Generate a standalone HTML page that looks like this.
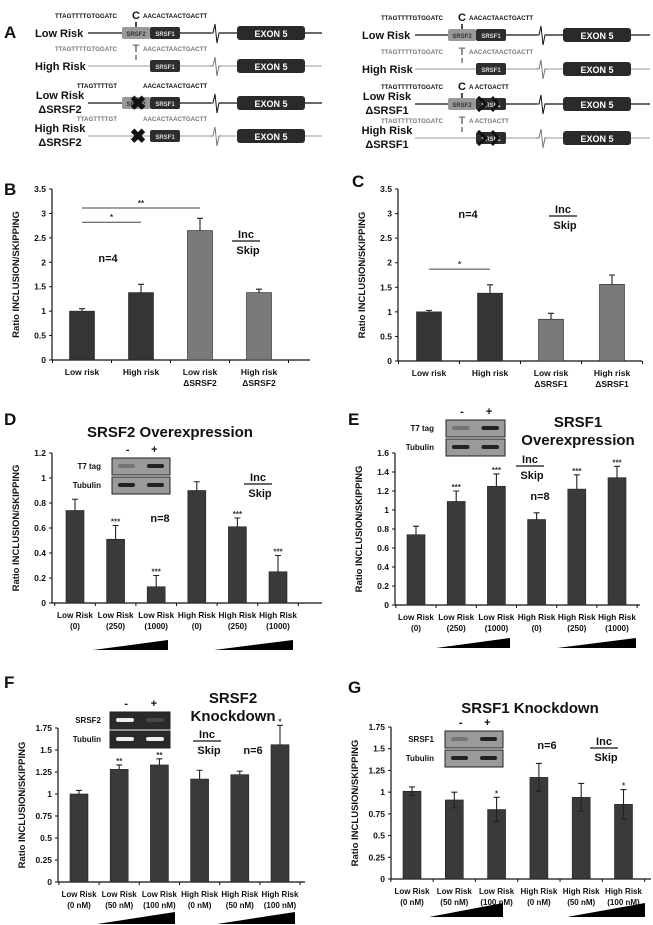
<!DOCTYPE html>
<html><head><meta charset="utf-8"><style>
html,body{margin:0;padding:0;background:#fff}
svg{display:block;font-family:"Liberation Sans",Arial,sans-serif;font-weight:bold}
</style></head><body>
<svg id="fig" width="653" height="925" viewBox="0 0 653 925" xmlns="http://www.w3.org/2000/svg">
<g id="panelA"></g>
</svg>
<script>
// ---- data ----
const catsB = [["Low risk",""],["High risk",""],["Low risk","ΔSRSF2"],["High risk","ΔSRSF2"]];
const valsB = [1.0, 1.38, 2.65, 1.38];
const errsB = [0.05, 0.17, 0.25, 0.07];
const ticksB = [0,0.5,1,1.5,2,2.5,3,3.5];
const catsC = [["Low risk",""],["High risk",""],["Low risk","ΔSRSF1"],["High risk","ΔSRSF1"]];
const valsC = [1.0, 1.38, 0.85, 1.56];
const errsC = [0.03, 0.17, 0.12, 0.19];
const ticksC = [0,0.5,1,1.5,2,2.5,3,3.5];
const catsOE = [["Low Risk","(0)"],["Low Risk","(250)"],["Low Risk","(1000)"],["High Risk","(0)"],["High Risk","(250)"],["High Risk","(1000)"]];
const valsD = [0.74, 0.51, 0.13, 0.90, 0.61, 0.25];
const errsD = [0.09, 0.11, 0.09, 0.07, 0.07, 0.13];
const starsD = ["","***","***","","***","***"];
const ticksD = [0,0.2,0.4,0.6,0.8,1,1.2];
const valsE = [0.74, 1.09, 1.25, 0.90, 1.22, 1.34];
const errsE = [0.09, 0.11, 0.13, 0.07, 0.15, 0.12];
const starsE = ["","***","***","","***","***"];
const ticksE = [0,0.2,0.4,0.6,0.8,1,1.2,1.4,1.6];
const catsKD = [["Low Risk","(0 nM)"],["Low Risk","(50 nM)"],["Low Risk","(100 nM)"],["High Risk","(0 nM)"],["High Risk","(50 nM)"],["High Risk","(100 nM)"]];
const valsF = [1.0, 1.28, 1.33, 1.17, 1.22, 1.56];
const errsF = [0.04, 0.05, 0.07, 0.10, 0.04, 0.22];
const starsF = ["","**","**","","","*"];
const ticksF = [0,0.25,0.5,0.75,1,1.25,1.5,1.75];
const valsG = [1.01, 0.91, 0.80, 1.17, 0.94, 0.86];
const errsG = [0.05, 0.09, 0.14, 0.16, 0.16, 0.17];
const starsG = ["","","*","","","*"];
const ticksG = [0,0.25,0.5,0.75,1,1.25,1.5,1.75];

const NS="http://www.w3.org/2000/svg";
const svg=document.getElementById('fig');
function mk(tag,attrs,parent,text){const e=document.createElementNS(NS,tag);for(const k in attrs)e.setAttribute(k,attrs[k]);if(text!==undefined)e.textContent=text;(parent||svg).appendChild(e);return e;}
function fmt(v){return String(v);}

function chart(o){
  const g=mk('g',{});
  
  
  const ymax=o.ticks[o.ticks.length-1];
  const y=v=>o.y0-(v/ymax)*(o.y0-o.yTop);
  const x=i=>o.x0+o.pad+i*o.step;
  const ya=mk('line',{x1:o.x0,y1:o.yTop,x2:o.x0,y2:o.y0,stroke:'#111','stroke-width':1.2},g);
  
  
  const xa=mk('line',{x1:o.x0,y1:o.y0,x2:o.xEnd,y2:o.y0,stroke:'#111','stroke-width':1.2},g);
  
  
  o.ticks.forEach(t=>{
    mk('line',{x1:o.x0-3,y1:y(t),x2:o.x0,y2:y(t),stroke:'#111'},g);
    const tl=mk('text',{x:o.x0-6,y:y(t)+3,'font-size':8.5,'text-anchor':'end',fill:'#111'},g,fmt(t));
    
    
  });
  for(let i=0;i<=o.vals.length;i++){const tx=x(i)-o.step/2;mk('line',{x1:tx,y1:o.y0,x2:tx,y2:o.y0+3,stroke:'#111'},g);}
  const yt=mk('text',{x:0,y:0,'font-size':9.5,'text-anchor':'middle',fill:'#111',transform:`translate(${o.x0-33},${(o.y0+o.yTop)/2}) rotate(-90)`},g,'Ratio INCLUSION/SKIPPING');
  
  
  o.vals.forEach((v,i)=>{
    const cx=x(i);
    const col=o.colors?o.colors[i]:'#3a3a3a';
    const b=mk('rect',{x:cx-o.bw/2,y:y(v),width:o.bw,height:o.y0-y(v),fill:col,stroke:'#222','stroke-width':0.6},g);
    
    
    const e=o.errs[i];
    const eb=mk('path',{d:`M${cx},${y(v)} V${y(v+e)} M${cx-3},${y(v+e)} H${cx+3}`+(o.twoSided?` M${cx},${y(v)} V${y(v-e)} M${cx-3},${y(v-e)} H${cx+3}`:''),stroke:'#222','stroke-width':1.1,fill:'none'},g);
    
    
    if(o.stars&&o.stars[i]){
      const s=mk('text',{x:cx,y:y(v+e)-1,'font-size':8,'text-anchor':'middle',fill:'#333'},g,o.stars[i]);
      
      
    }
    const c=o.cats[i];
    const l1=mk('text',{x:cx,y:o.y0+15,'font-size':o.lfs||8.5,'text-anchor':'middle',fill:'#111'},g,c[0]);
    
    
    if(c[1]){const l2=mk('text',{x:cx,y:o.y0+26,'font-size':o.lfs||8.5,'text-anchor':'middle',fill:'#111'},g,c[1]);
      
      }
  });
  if(o.sig){o.sig.forEach(s=>{
    mk('line',{x1:x(s[0]),x2:x(s[1]),y1:y(s[2]),y2:y(s[2]),stroke:'#444','stroke-width':1},g);
    const st=mk('text',{x:(x(s[0])+x(s[1]))/2,y:y(s[2])-2,'font-size':8,'text-anchor':'middle',fill:'#333'},g,s[3]);
    
    
  });}
  if(o.tri){o.tri.forEach(t=>{
    const p=mk('polygon',{points:`${t[0]},${t[2]} ${t[1]},${t[2]} ${t[1]},${t[2]-t[3]}`,fill:'#000'},g);
    
    
  });}
  return g;
}
function txt(x,y,s,fs,name,anchor,fill){const t=mk('text',{x:x,y:y,'font-size':fs,'text-anchor':anchor||'middle',fill:fill||'#111'},svg,s);
  
  return t;}
function incskip(x,y){txt(x,y,'Inc',11,'inc-label');mk('line',{x1:x-14,x2:x+14,y1:y+3,y2:y+3,stroke:'#111','stroke-width':1.2});txt(x+2,y+16,'Skip',11,'skip-label');}
function blot(x,y,w,labels,bright,lx){
  labels.forEach((l,k)=>{
    const yy=y+k*19;
    const r=mk('rect',{x:x,y:yy,width:w,height:17,fill:bright?'#2a2a2a':'#9a9a9a',stroke:'#222'});
    
    
    txt(lx,yy+11,l,8,'blot-label','end');
    const b=bright?(k==0?[1,0.15]:[1,1]):l==='Tubulin'?[1,1]:[0.3,1];
    b.forEach((a,j)=>{mk('rect',{x:x+6+j*(w/2),y:yy+6,width:w/2-12,height:4,rx:2,fill:bright?'#eee':'#222',opacity:a});});
  });
  txt(x+w*0.27,y-5,'-',11,'minus-label');txt(x+w*0.73,y-5,'+',11,'plus-label');
}

[['A',4,38],['B',4,195],['C',352,187],['D',4,425],['E',348,425],['F',4,688],['G',348,693]].forEach(p=>txt(p[1],p[2],p[0],17,'panel-letter-'+p[0].toLowerCase(),'start'));

chart({name:'chart-b',cats:catsB,vals:valsB,errs:errsB,ticks:ticksB,x0:52,y0:360,yTop:189,xEnd:310,pad:30,step:59,bw:25,
  colors:['#353535','#353535','#7a7a7a','#7a7a7a'],sig:[[0,1,2.82,'*'],[0,2,3.11,'**']]});
txt(108,262,'n=4',11,'n-label');incskip(246,238);
chart({name:'chart-c',cats:catsC,vals:valsC,errs:errsC,ticks:ticksC,x0:398,y0:361,yTop:189,xEnd:642,pad:31,step:61,bw:25,
  colors:['#353535','#353535','#7a7a7a','#7a7a7a'],sig:[[0,1,1.87,'*']]});
txt(468,218,'n=4',11,'n-label');incskip(563,213);
chart({name:'chart-d',cats:catsOE,vals:valsD,errs:errsD,stars:starsD,ticks:ticksD,x0:52,y0:603,yTop:453,xEnd:322,pad:23,step:40.6,bw:18,lfs:8.2,
  tri:[[93,168,650,10],[214,293,650,10]]});
txt(170,437,'SRSF2 Overexpression',15,'chart-title-d');
blot(112,458,58,['T7 tag','Tubulin'],false,101);
txt(160,522,'n=8',11,'n-label');incskip(258,481);
chart({name:'chart-e',cats:catsOE,vals:valsE,errs:errsE,stars:starsE,ticks:ticksE,x0:395,y0:605,yTop:453,xEnd:640,pad:21,step:40.2,bw:18,lfs:8.2,
  tri:[[436,510,648,10],[557,636,648,10]]});
txt(578,427,'SRSF1',15,'chart-title-e');txt(578,445,'Overexpression',15,'chart-title-e-line2');
blot(446,420,59,['T7 tag','Tubulin'],false,434);
txt(540,500,'n=8',11,'n-label');incskip(530,463);
chart({name:'chart-f',cats:catsKD,vals:valsF,errs:errsF,stars:starsF,ticks:ticksF,x0:58,y0:882,yTop:728,xEnd:305,pad:21,step:40.2,bw:18,lfs:8,
  tri:[[97,175,924,12],[217,295,924,12]]});
txt(233,703,'SRSF2',15,'chart-title-f');txt(233,721,'Knockdown',15,'chart-title-f-line2');
blot(110,712,60,['SRSF2','Tubulin'],true,101);
txt(253,754,'n=6',11,'n-label');incskip(207,738);
chart({name:'chart-g',cats:catsKD,vals:valsG,errs:errsG,stars:starsG,ticks:ticksG,x0:391,y0:879,yTop:727,xEnd:651,pad:21,step:42.3,bw:18,lfs:8,twoSided:true,
  tri:[[429,503,917,14],[567,645,917,14]]});
txt(530,713,'SRSF1 Knockdown',15,'chart-title-g');
blot(445,731,58,['SRSF1','Tubulin'],false,434);
txt(547,749,'n=6',11,'n-label');incskip(604,745);

// Panel A diagrams
function row(ox,y,label,label2,seq,s2,kind,base,lineEnd,dark){
  const col=dark?'#111':'#777';
  if(label2){txt(ox+25,y-4,label,11,'row-label','middle');txt(ox+25,y+10,label2,11,'row-label-line2','middle');}
  else txt(ox,y+4,label,11,'row-label','start');
  mk('line',{x1:ox+53,y1:y,x2:lineEnd,y2:y,stroke:col,'stroke-width':dark?1.2:0.8});
  const sq=ox+base+93;
  mk('rect',{x:sq-4,y:y-10,width:8,height:22,fill:'#fff'});
  mk('path',{d:`M${sq-5},${y} L${sq-2},${y} L${sq},${y-9} L${sq+2},${y+10} L${sq+4},${y} L${sq+6},${y}`,stroke:col,fill:'none','stroke-width':1});
  const ex=mk('rect',{x:ox+base+115,y:y-7,width:68,height:14,rx:3,fill:'#2a2a2a'});
  
  
  txt(ox+base+149,y+4,'EXON 5',9,'exon-label','middle','#fff');
  const bx=ox+base;
  if(s2){mk('rect',{x:bx,y:y-6,width:28,height:12,rx:2,fill:'#999'});txt(bx+14,y+3,'SRSF2',6,'srsf2-box','middle','#333');}
  mk('rect',{x:bx+28,y:y-6,width:30,height:12,rx:2,fill:'#2d2d2d'});txt(bx+43,y+3,'SRSF1',6,'srsf1-box','middle','#ddd');
  if(kind==='x2'){txt(bx+16,y+7,'✖',20,'deletion-x','middle','#111');}
  if(kind==='x1'){mk('path',{d:`M${bx+30},${y-7} L${bx+38},${y} L${bx+30},${y+7} M${bx+44},${y-7} L${bx+50},${y} L${bx+44},${y+7}`,stroke:'#111','stroke-width':3,fill:'none'});}
  if(seq[1])mk('line',{x1:bx+14,y1:y-11,x2:bx+14,y2:y-6,stroke:col,'stroke-width':1.5});
  txt(bx-5,y-15,seq[0],6.2,'sequence-left','end',col);
  if(seq[1])txt(bx+14,y-14,seq[1],11,'snp-base','middle',col);
  txt(bx+21,y-15,seq[2],6.2,'sequence-right','start',col);
}
const L='TTAGTTTTGTGGATC', R='AACACTAACTGACTT';
row(35,33,'Low Risk','',[L,'C',R],true,'',87,322,true);
row(35,66,'High Risk','',[L,'T',R],false,'',87,322,false);
row(35,103,'Low Risk','ΔSRSF2',['TTAGTTTTGT','',R],true,'x2',87,322,true);
row(35,136,'High Risk','ΔSRSF2',['TTAGTTTTGT','',R],false,'x2',87,322,false);
row(362,35,'Low Risk','',[L,'C',R],true,'',86,650,true);
row(362,69,'High Risk','',[L,'T',R],false,'',86,650,false);
row(362,104,'Low Risk','ΔSRSF1',[L,'C','A         ACTGACTT'],true,'x1',86,650,true);
row(362,138,'High Risk','ΔSRSF1',[L,'T','A         ACTGACTT'],false,'x1',86,650,false);
</script>
</body></html>
